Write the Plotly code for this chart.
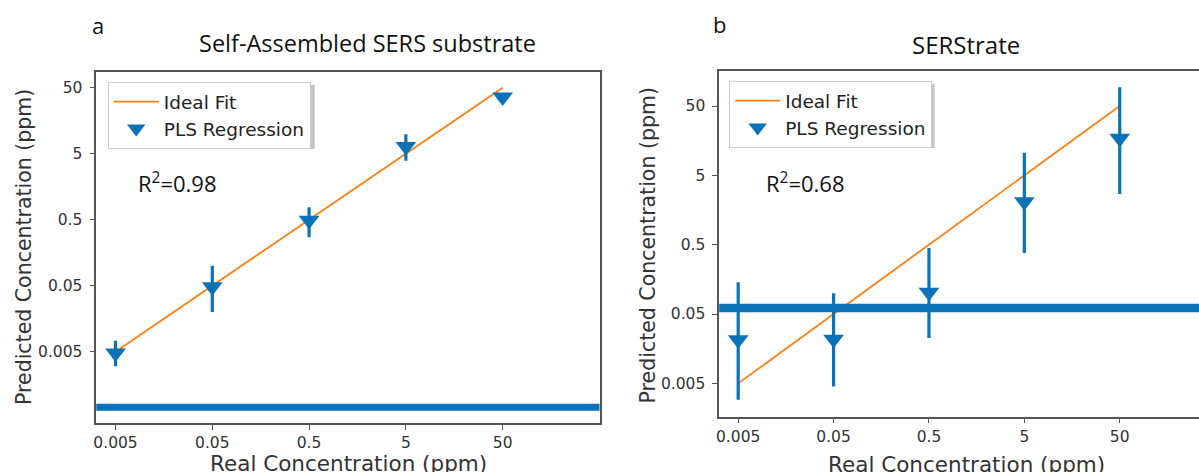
import plotly.graph_objects as go

# ---------------- data ----------------
real_conc = [0.005, 0.05, 0.5, 5, 50]
tick_vals = [0.005, 0.05, 0.5, 5, 50]
tick_text = ["0.005", "0.05", "0.5", "5", "50"]

# panel a: Self-Assembled SERS substrate
pred_a = [0.0048, 0.048, 0.49, 6.4, 36]
err_plus_a = [0.0025, 0.052, 0.28, 3.4, 4.0]
err_minus_a = [0.0018, 0.028, 0.22, 2.5, 4.0]
lod_a = 0.00072
r2_a = "0.98"

# panel b: SERStrate
pred_b = [0.0213, 0.0216, 0.103, 2.08, 17.1]
err_plus_b = [0.122, 0.078, 0.347, 8.5, 76.0]
err_minus_b = [0.0184, 0.0171, 0.0805, 1.70, 14.4]
lod_b = 0.061
r2_b = "0.68"

ideal_fit = [0.005, 0.05, 0.5, 5, 50]

BLUE = "#0a72b6"
ORANGE = "#ff7f0e"
AXC = "#555555"
TICKFONT = dict(family="DejaVu Sans", size=15.5, color="#333333")
TEXTFONT = "Open Sans"

fig = go.Figure()

def add_panel(xa, ya, pred, ep, em, legend):
    fig.add_trace(go.Scatter(
        x=real_conc, y=ideal_fit, mode="lines", name="Ideal Fit",
        line=dict(color=ORANGE, width=1.8), xaxis=xa, yaxis=ya, legend=legend))
    fig.add_trace(go.Scatter(
        x=real_conc, y=pred, mode="markers", name="PLS Regression",
        marker=dict(symbol="triangle-down", size=18, color=BLUE),
        error_y=dict(type="data", symmetric=False, array=ep, arrayminus=em,
                     color=BLUE, thickness=3.2, width=0),
        xaxis=xa, yaxis=ya, legend=legend))

add_panel("x", "y", pred_a, err_plus_a, err_minus_a, "legend")
add_panel("x2", "y2", pred_b, err_plus_b, err_minus_b, "legend2")

W, H = 1199, 472
def px(x): return x / W
def py(y): return 1 - y / H

axis_common = dict(type="log", showgrid=False, zeroline=False, showline=True,
                   linecolor=AXC, linewidth=1.5, ticks="outside", ticklen=5,
                   tickcolor=AXC, tickwidth=1.2, tickfont=TICKFONT,
                   tickvals=tick_vals, ticktext=tick_text)

legend_common = dict(xanchor="left", yanchor="top", bgcolor="white",
                     bordercolor="#cccccc", borderwidth=1,
                     font=dict(family="DejaVu Sans", size=18.5, color="#222222"),
                     itemwidth=45, tracegroupgap=0)

fig.update_layout(
    width=W, height=H, margin=dict(l=0, r=0, t=0, b=0),
    paper_bgcolor="white", plot_bgcolor="white",
    xaxis=dict(axis_common, domain=[px(93.5), px(598)], range=[-2.5, 2.7],
               anchor="y", mirror=True),
    yaxis=dict(axis_common, domain=[py(423), py(72)], range=[-3.381, 1.936],
               anchor="x", mirror=True, ticklabelstandoff=4),
    xaxis2=dict(axis_common, domain=[px(718), 1.0], range=[-2.5, 2.53],
                anchor="y2", mirror=True),
    yaxis2=dict(axis_common, domain=[py(416.7), py(70.7)], range=[-2.782, 2.209],
                anchor="x2", mirror=False, ticklabelstandoff=4),
    legend=dict(legend_common, x=px(105), y=py(82)),
    legend2=dict(legend_common, x=px(728), y=py(81)),
    shapes=[
        dict(type="line", xref="x domain", x0=0, x1=1, yref="y", y0=lod_a, y1=lod_a,
             line=dict(color=BLUE, width=7), layer="above"),
        dict(type="line", xref="x2 domain", x0=0, x1=1, yref="y2", y0=lod_b, y1=lod_b,
             line=dict(color=BLUE, width=8.5), layer="above"),
        # legend drop shadows
        dict(type="rect", xref="paper", yref="paper", x0=px(109), x1=px(312.5),
             y0=py(149), y1=py(85), fillcolor="#c4c4c4", line=dict(width=0),
             layer="above"),
        dict(type="rect", xref="paper", yref="paper", x0=px(732), x1=px(934),
             y0=py(148), y1=py(84), fillcolor="#c4c4c4", line=dict(width=0),
             layer="above"),
    ],
)

ann = []
def text(x, y, s, size, family=TEXTFONT, angle=0, color="#111111"):
    ann.append(dict(xref="paper", yref="paper", x=px(x), y=py(y), text=s,
                    showarrow=False, xanchor="center", yanchor="middle",
                    textangle=angle, font=dict(family=family, size=size, color=color)))

text(95, 25, "a", 22)
text(718, 24, "b", 22)
text(365, 43, "Self-Assembled SERS substrate", 23.5)
text(965, 45, "SERStrate", 24)
text(175, 183, "R<sup>2</sup>=" + r2_a, 22)
text(805, 183, "R<sup>2</sup>=" + r2_b, 22)
text(346, 463.5, "Real Concentration (ppm)", 21.5, family="DejaVu Sans", color="#333333")
text(966, 464, "Real Concentration (ppm)", 21.5, family="DejaVu Sans", color="#333333")
text(21, 247, "Predicted Concentration (ppm)", 20.5, family="DejaVu Sans", angle=-90, color="#333333")
text(647, 245, "Predicted Concentration (ppm)", 20.5, family="DejaVu Sans", angle=-90, color="#333333")
fig.update_layout(annotations=ann)

fig.write_html("out.html")
